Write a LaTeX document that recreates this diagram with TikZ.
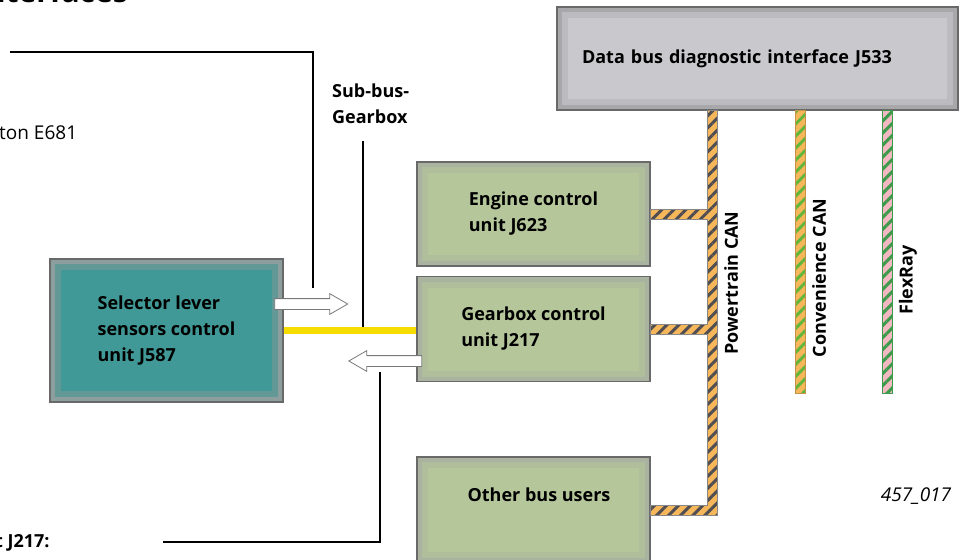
\documentclass[tikz,border=0pt]{standalone}
\usepackage{fontspec}
\setmainfont{Open Sans}
\usetikzlibrary{calc,shapes.arrows,patterns.meta}

\definecolor{frame}{RGB}{105,105,105}
\definecolor{selring}{RGB}{140,158,158}
\definecolor{selmid}{RGB}{98,152,150}
\definecolor{selfill}{RGB}{64,153,150}
\definecolor{ecuring}{RGB}{170,178,160}
\definecolor{ecumid}{RGB}{176,190,156}
\definecolor{ecufill}{RGB}{181,198,155}
\definecolor{gwring}{RGB}{168,168,170}
\definecolor{gwmid}{RGB}{188,188,192}
\definecolor{gwfill}{RGB}{201,201,205}
\definecolor{canorange}{RGB}{246,183,90}
\definecolor{stripedark}{RGB}{80,78,82}
\definecolor{stripegreen}{RGB}{98,182,60}
\definecolor{flexpink}{RGB}{242,184,194}
\definecolor{flexgreen}{RGB}{60,154,74}
\definecolor{subyellow}{RGB}{247,220,0}
\definecolor{arrowedge}{RGB}{120,120,120}

\newcommand\lblfont{\fontsize{18}{26}\selectfont}

\tikzset{
  ringbox/.style n args={3}{fill=#1, path picture={
      \fill[#2] ([shift={(5pt,-5pt)}]path picture bounding box.north west)
        rectangle ([shift={(-5pt,5pt)}]path picture bounding box.south east);
      \fill[#3] ([shift={(11pt,-11pt)}]path picture bounding box.north west)
        rectangle ([shift={(-11pt,11pt)}]path picture bounding box.south east);}},
  unit/.style={draw=frame, line width=1.2pt, inner sep=0pt, align=left,
    font=\lblfont\bfseries, minimum width=233pt},
  lbl/.style={inner sep=0pt, font=\lblfont, align=left},
  callout/.style={line width=1.3pt, black},
  sigarrow/.style={single arrow, draw=arrowedge, fill=white, line width=0.8pt,
    inner xsep=0pt, inner ysep=5pt, single arrow head extend=5pt,
    single arrow tip angle=60, minimum height=73pt},
  bus/.style n args={3}{preaction={fill=#1}, draw=#3, line width=0.6pt,
    pattern={Lines[angle=45, distance=8.5pt, line width=3pt]}, pattern color=#2},
}

\begin{document}
\begin{tikzpicture}[x=1pt,y=-1pt]
  \useasboundingbox (0,0) rectangle (965,559);

  % heading, cut by the page edge
  \node[inner sep=0pt, font=\fontsize{30}{30}\selectfont\bfseries, anchor=base east] (title) at (128,3) {Interfaces};

  % control units
  \node[unit, ringbox={gwring}{gwmid}{gwfill}, minimum height=103pt,
        text width=351pt, inner xsep=25pt] (gw) at (757.5,58.5) {Data bus diagnostic interface J533};
  \node[unit, ringbox={selring}{selmid}{selfill}, minimum height=143pt] (sel) at (166.5,330.5)
    {Selector lever\\sensors control\\unit J587};
  \node[unit, ringbox={ecuring}{ecumid}{ecufill}, minimum height=104pt] (engine) at (533.5,214)
    {Engine control\\unit J623};
  \node[unit, ringbox={ecuring}{ecumid}{ecufill}, minimum height=105pt] (gear) at (533.5,329)
    {Gearbox control\\unit J217};
  \node[unit, ringbox={ecuring}{ecumid}{ecufill}, minimum height=106pt] (other) at (533.5,510) {};
  \node[lbl, font=\lblfont\bfseries] (otherlbl) at (539,495) {Other bus users};

  % bus lines
  \coordinate (ptx) at (712,0);
  \coordinate (ccend) at (800,393);
  \coordinate (frend) at (887,393);
  \path[bus={canorange}{stripedark}{frame!80}]
    ($(gw.south -| ptx)+(-5pt,0pt)$) -- ($(gw.south -| ptx)+(5pt,0pt)$)
    -- ($(other.east -| ptx)+(5pt,-5pt)$) -- ($(other.east)+(0pt,-5pt)$)
    -- ($(other.east)+(0pt,5pt)$) -- ($(other.east -| ptx)+(-5pt,5pt)$)
    -- ($(gear.east -| ptx)+(-5pt,-5pt)$) -- ($(gear.east)+(0pt,-5pt)$)
    -- ($(gear.east)+(0pt,5pt)$) -- ($(gear.east -| ptx)+(-5pt,5pt)$)
    -- ($(engine.east -| ptx)+(-5pt,-5pt)$) -- ($(engine.east)+(0pt,-5pt)$)
    -- ($(engine.east)+(0pt,5pt)$) -- ($(engine.east -| ptx)+(-5pt,5pt)$) -- cycle;
  \path[bus={canorange}{stripegreen}{canorange!80!black}]
    ($(gw.south -| ccend)+(-5pt,0pt)$) rectangle ($(ccend)+(5pt,0pt)$);
  \path[bus={flexpink}{flexgreen}{flexgreen}]
    ($(gw.south -| frend)+(-5pt,0pt)$) rectangle ($(frend)+(5pt,0pt)$);

  \node[lbl, font=\lblfont\bfseries, rotate=90] (ptlbl) at (731,283) {Powertrain CAN};
  \node[lbl, font=\lblfont\bfseries, rotate=90] (cclbl) at (819,278) {Convenience CAN};
  \node[lbl, font=\lblfont\bfseries, rotate=90] (frlbl) at (908,280) {FlexRay};

  % sub-bus and signal arrows
  \draw[subyellow, line width=7pt] (sel.east) -- (sel.east -| gear.west);
  \node[sigarrow] (txarrow) at (306.5,304) {};
  \node[sigarrow, shape border rotate=180] (rxarrow) at (390,361) {};

  % callouts
  \node[lbl, anchor=west, font=\fontsize{19}{26}\selectfont] (e681lbl) at (-1,133) {ton E681};
  \node[lbl, font=\lblfont\bfseries, anchor=west] (j217lbl) at (-5,543) {t J217:};
  \node[lbl, font=\lblfont\bfseries, anchor=north west] (sublbl) at (332,84) {Sub-bus-\\Gearbox};
  \node[lbl, font=\fontsize{19}{26}\selectfont\itshape] (fignum) at (916,496) {457\_017};

  \coordinate (e681end) at (10,52);
  \coordinate (e681tip) at (313,288);
  \coordinate (subtip) at (363,327);
  \coordinate (j217tip) at (380,372);
  \coordinate (j217end) at (163,542);
  \draw[callout] (e681end) -| (e681tip);
  \draw[callout] (subtip |- 0,141) -- (subtip);
  \draw[callout] (j217tip) |- (j217end);
\end{tikzpicture}
\end{document}
